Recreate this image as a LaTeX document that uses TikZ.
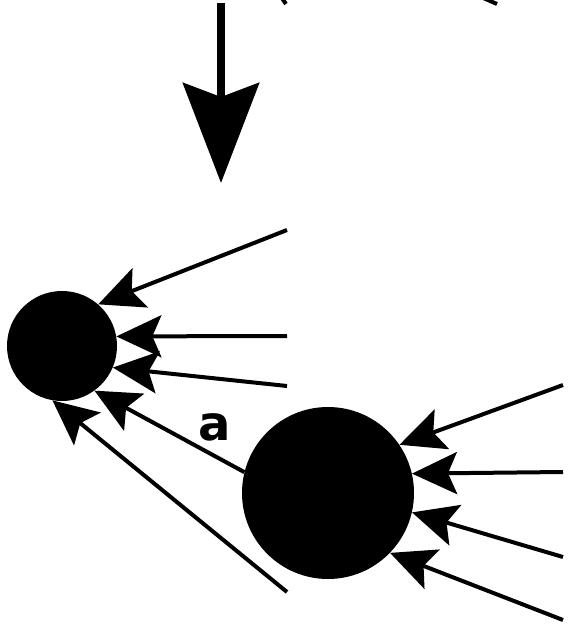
\documentclass[tikz,border=0pt]{standalone}
\usepackage{fontspec}
\setmainfont{DejaVu Sans}
\usetikzlibrary{arrows.meta}

\begin{document}
\begin{tikzpicture}[x=1pt,y=-1pt,
  dot/.style={circle,fill,inner sep=0pt},
  ray/.style={line width=4pt,-{Stealth[length=45pt,width=42pt,inset=9pt]}},
  big ray/.style={line width=8pt,-{Stealth[length=100pt,width=76pt,inset=14pt]}}]
\useasboundingbox (0,0) rectangle (576,635);
\clip (0,0) rectangle (576,635);
% the two bodies
\node[dot,minimum size=110pt] (s) at (62,346) {};
\node[dot,minimum size=172pt] (b) at (328,493) {};
\node[font=\bfseries\fontsize{48}{48}\selectfont] (lbl) at (215,427) {a};
% free ends
\coordinate (top) at (221,3);
\coordinate (top tip) at (221,183);
\coordinate (s1) at (287,230);
\coordinate (s2) at (287,336);
\coordinate (s3) at (287,386);
\coordinate (s4) at (287,592);
\coordinate (b1) at (563,385);
\coordinate (b2) at (563,472);
\coordinate (b3) at (563,557);
\coordinate (b4) at (563,620);
% cut-off lines at the top edge
\draw[line width=4pt] (286,4) -- (268,-22);
\draw[line width=4pt] (497,4) -- (465,-10);
\draw[big ray] (top) -- (top tip);
\draw[ray] (s1) -- (s.49);
\draw[ray] (s2) -- (s.10);
\draw[ray] (s3) -- (s.-23);
\draw[ray] (s4) -- (s.-100);
\draw[ray] (b.166) -- (s.-54);
\draw[ray] (b1) -- (b.34);
\draw[ray] (b2) -- (b.13);
\draw[ray] (b3) -- (b.-13);
\draw[ray] (b4) -- (b.-44);
\end{tikzpicture}
\end{document}
